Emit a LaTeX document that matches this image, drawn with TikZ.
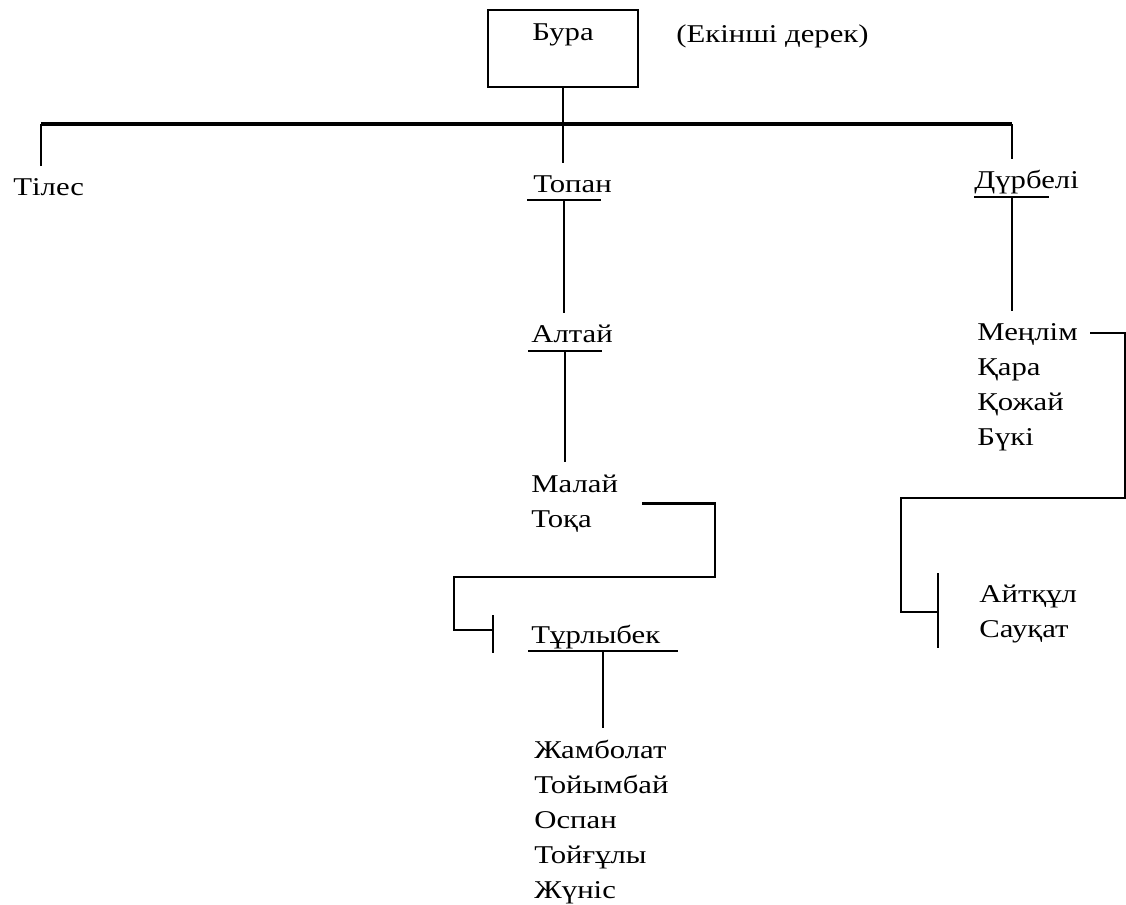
\documentclass[tikz,border=0pt]{standalone}
\usepackage{fontspec}
\setmainfont{Liberation Serif}[FakeStretch=1.2]
\tikzset{
  kin/.style={inner sep=0pt, outer ysep=6pt, text height=8.5pt, anchor=base west},
  kins/.style={inner sep=0pt, outer ysep=6pt, anchor=base west, align=left},
  bar/.style={line width=1.7pt},
}
\begin{document}
\begin{tikzpicture}[x=0.5pt,y=-0.5pt,font=\fontsize{12.8}{17.5}\selectfont,line width=1.4pt]
\useasboundingbox (0,0) rectangle (1126,905);

\node[draw, inner sep=0pt, text height=15pt, text depth=23.5pt, minimum width=75pt, anchor=base] (bura) at (563,40) {Бура};
\node[kin] (note) at (675,42) {(Екінші дерек)};

\node[kin] (tiles) at (12,195) {Тілес};
\node[kin] (topan) at (532,192) {Топан};
\node[kin] (durbeli) at (973,188) {Дүрбелі};
\node[kin] (altai) at (530,342) {Алтай};
\node[kins] (malai) at (530,527) {Малай\\Тоқа};
\node[kin] (turly) at (530,643) {Тұрлыбек};
\node[kins] (sons) at (533,898) {Жамболат\\Тойымбай\\Оспан\\Тойғұлы\\Жүніс};
\node[kins] (menlim) at (976,445) {Меңлім\\Қара\\Қожай\\Бүкі};
\node[kins] (aitkul) at (978,637) {Айтқұл\\Сауқат};

\coordinate (barL) at (41,124);
\coordinate (barR) at (1012,124);
\draw[bar] (barL) -- (barR);
\draw (bura.south) -- (bura.south |- topan.north);
\draw (tiles.north -| barL) -- (barL);
\draw (barR) -- (barR |- durbeli.north);

\draw (527,200) -- (601,200);
\draw (974,197) -- (1049,197);
\draw (528,351) -- (602,351);
\draw (528,651) -- (678,651);

\draw (564,200) -- (564,200 |- altai.north);
\draw (1012,197) -- (1012,197 |- menlim.north);
\draw (565,351) -- (565,351 |- malai.north);
\draw (603,651) -- (603,651 |- sons.north);

\draw ([xshift=11.5pt]malai.east) -| (715,577) -| (454,630) -- (493,630);
\draw (493,615) -- (493,653);

\draw ([xshift=5.5pt,yshift=-11pt]menlim.north east) -| (1125,498) -| (901,612) -- (938,612);
\draw (938,573) -- (938,648);
\end{tikzpicture}
\end{document}
